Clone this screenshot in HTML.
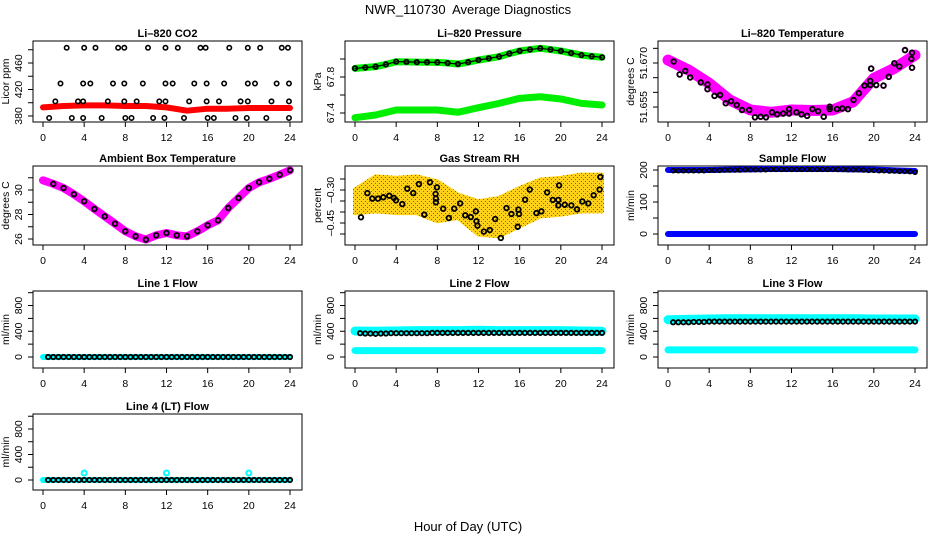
<!DOCTYPE html>
<html><head><meta charset="utf-8"><style>
body{margin:0;background:#fff}
svg{display:block;font-family:"Liberation Sans",Arial,sans-serif}
</style></head><body>
<svg id="c" width="936" height="540" xmlns="http://www.w3.org/2000/svg">
<text x="468" y="14" text-anchor="middle" font-size="13">NWR_110730&#160; Average Diagnostics</text>
<text x="468" y="531" text-anchor="middle" font-size="13">Hour of Day (UTC)</text>
</svg>
<script>
const HOURS2=[0,2,4,6,8,10,12,14,16,18,20,22,24];
const HOURS1=[0,1,2,3,4,5,6,7,8,9,10,11,12,13,14,15,16,17,18,19,20,21,22,23,24];
const HALF=[0.5,1,1.5,2,2.5,3,3.5,4,4.5,5,5.5,6,6.5,7,7.5,8,8.5,9,9.5,10,10.5,11,11.5,12,12.5,13,13.5,14,14.5,15,15.5,16,16.5,17,17.5,18,18.5,19,19.5,20,20.5,21,21.5,22,22.5,23,23.5,24];
const XTICKS=[0,4,8,12,16,20,24];
// CO2
const co2Red=[393,395,396,396,395,395,393,388,391,391,392,392,392];
const co2T=[2.3,4.0,5.1,7.3,7.9,10.2,11.9,13.1,15.3,15.8,18.1,19.9,21.1,23.2,23.8,1.7,3.9,4.6,6.8,7.9,9.7,11.9,12.6,14.7,15.9,17.6,19.9,20.6,22.7,23.9,1.2,3.4,3.9,6.3,7.9,9.1,11.3,11.9,14.2,15.9,17.1,19.2,19.9,22.2,23.9,0.6,2.8,3.9,5.7,8.0,8.6,10.7,11.8,13.7,16.0,16.6,18.7,19.8,21.7,23.9];
const co2V=[483,483,483,483,483,483,483,483,483,483,483,483,483,483,483,429,429,429,429,429,429,429,429,429,429,429,429,429,429,429,402,402,402,402,402,402,402,402,402,402,402,402,402,402,402,377,377,377,377,377,377,377,377,377,377,377,377,377,377,377];
// Pressure
const presUpper=[67.896,67.905,67.915,67.94,67.970,67.968,67.965,67.964,67.963,67.955,67.944,67.965,67.989,68.007,68.026,68.06,68.089,68.105,68.119,68.105,68.089,68.066,68.044,68.03,68.019];
const presLower=[67.348,67.378,67.433,67.433,67.433,67.408,67.459,67.507,67.563,67.581,67.556,67.507,67.489];
// Temperature
const tempCenter=[51.671,51.6676,51.6631,51.6574,51.654,51.6532,51.654,51.6538,51.654,51.6568,51.6648,51.6682,51.6727];
const tempT=[0.55,1.13,1.68,2.16,3.19,3.84,3.84,4.52,5.06,5.61,6.13,6.68,7.19,7.90,8.45,9.0,9.52,10.10,10.61,11.19,11.77,11.77,12.48,12.97,13.52,14.03,14.58,15.13,15.71,15.71,16.42,16.94,17.48,18.03,18.55,19.1,19.65,19.65,19.74,20.23,20.94,21.45,22.0,22.48,23.03,23.71,23.65,23.71];
const tempV=[51.6705,51.6661,51.6673,51.6651,51.6634,51.6627,51.6611,51.6588,51.6591,51.6563,51.6570,51.6557,51.6540,51.6540,51.6515,51.6517,51.6515,51.6532,51.6525,51.6528,51.6543,51.6528,51.6532,51.6525,51.6520,51.6543,51.6536,51.6517,51.6551,51.6543,51.6543,51.6545,51.6543,51.6574,51.6597,51.6623,51.6639,51.6625,51.6681,51.6625,51.6623,51.6653,51.6699,51.6688,51.6744,51.6735,51.6714,51.6684];
// Ambient
const ambient=[30.79,30.5,30.16,29.65,29.08,28.45,27.85,27.25,26.63,26.22,25.95,26.30,26.49,26.30,26.22,26.63,27.12,27.52,28.53,29.35,30.16,30.63,30.92,31.25,31.61];
// RH
const rhTop=[-0.298,-0.238,-0.245,-0.238,-0.261,-0.321,-0.351,-0.336,-0.291,-0.253,-0.245,-0.230,-0.230];
const rhBot=[-0.405,-0.397,-0.405,-0.405,-0.442,-0.427,-0.503,-0.510,-0.465,-0.420,-0.412,-0.397,-0.397];
const rhT=[0.58,1.20,1.68,2.23,2.75,3.33,3.78,3.98,4.59,5.08,5.66,6.21,6.73,7.28,7.83,7.86,7.86,7.96,8.57,9.12,9.64,10.22,10.71,11.25,11.74,11.80,11.90,12.52,13.10,13.62,14.17,14.72,15.20,15.81,15.88,15.94,16.53,16.98,17.63,18.11,18.67,19.22,19.83,19.76,19.76,20.38,21.02,21.57,22.09,22.67,23.19,23.77,23.84];
const rhV=[-0.424,-0.314,-0.339,-0.339,-0.333,-0.326,-0.336,-0.347,-0.364,-0.294,-0.314,-0.273,-0.412,-0.265,-0.318,-0.339,-0.356,-0.288,-0.385,-0.427,-0.385,-0.361,-0.415,-0.423,-0.397,-0.442,-0.462,-0.489,-0.482,-0.432,-0.518,-0.382,-0.409,-0.467,-0.389,-0.409,-0.344,-0.298,-0.405,-0.397,-0.311,-0.345,-0.279,-0.345,-0.370,-0.367,-0.370,-0.388,-0.352,-0.361,-0.324,-0.298,-0.241];
// Sample flow
const sampleHigh=[200,200,200,201,202,203,203,203,203,202,201,199,197];
const sampleLow=[0,0,0,0,0,0,0,0,0,0,0,0,0];
const sampleBlack=[198,198,198,198,198,198,198,199,199,199,200,200,200,200,201,201,201,201,201,202,202,202,202,202,202,202,202,202,202,202,202,202,202,202,201,201,201,200,199,199,198,198,197,197,196,196,195,193];
// Line flows
const line1Cyan=[0,0,0,0,0,0,0,0,0,0,0,0,0];
const line1Black=[0,0,0,0,0,0,0,0,0,0,0,0,0,0,0,0,0,0,0,0,0,0,0,0,0,0,0,0,0,0,0,0,0,0,0,0,0,0,0,0,0,0,0,0,0,0,0,0];
const line2CyanHi=[405,400,405,410,410,410,415,410,410,410,410,405,400];
const line2CyanLo=[100,100,100,100,100,100,100,100,100,100,100,100,100];
const line2Black=[370,365,365,360,365,365,370,370,370,370,370,370,370,370,375,375,375,375,375,375,375,375,375,375,375,375,375,375,375,375,375,375,375,375,375,375,375,375,375,375,375,375,375,375,375,375,375,375];
const line3CyanHi=[580,585,590,595,595,595,595,595,595,595,590,590,590];
const line3CyanLo=[110,110,110,110,110,110,110,110,110,110,110,110,110];
const line3Black=[540,540,540,540,545,545,545,550,550,550,550,550,550,550,550,550,550,550,550,550,550,550,550,550,550,550,550,550,550,550,550,550,550,550,550,550,550,550,550,550,550,550,550,550,550,550,550,550];
const line4Cyan=[0,0,0,0,0,0,0,0,0,0,0,0,0];
const line4SpikeT=[4,12,20];
const line4SpikeV=[110,110,110];
const line4Black=[0,0,0,0,0,0,0,0,0,0,0,0,0,0,0,0,0,0,0,0,0,0,0,0,0,0,0,0,0,0,0,0,0,0,0,0,0,0,0,0,0,0,0,0,0,0,0,0];

const svg=document.getElementById('c');
const NS='http://www.w3.org/2000/svg';
const COLX=[43,355,668], ROWTOP=[41,166,291,414], ROWBOT=[122,245,368,490];
function mk(tag,attrs,parent){const e=document.createElementNS(NS,tag);for(const k in attrs)e.setAttribute(k,attrs[k]);(parent||svg).appendChild(e);return e;}

function panel(col,row,title,ylab,vTop,vBot,ticks,labels,name,dec){
  const x0=COLX[col],top=ROWTOP[row],bot=ROWBOT[row];
  const g=mk('g',{});
  
  
  const sx=t=>x0+t*247/24;
  const sy=v=>top+(vTop-v)/(vTop-vBot)*(bot-top);
  const bx=x0-10,bw=269;
  const box=mk('rect',{x:bx,y:top,width:bw,height:bot-top,fill:'none',stroke:'#000','stroke-width':1},g);
  
  
  const tt=mk('text',{x:bx+bw/2,y:top-4,'text-anchor':'middle','font-size':11,'font-weight':'bold'},g);
  tt.textContent=title;
  
  
  XTICKS.forEach(t=>{
    mk('line',{x1:sx(t),x2:sx(t),y1:bot,y2:bot+5,stroke:'#000'},g);
    const l=mk('text',{x:sx(t),y:bot+19,'text-anchor':'middle','font-size':10.5},g);
    l.textContent=t;
    
    
  });
  ticks.forEach(v=>{mk('line',{x1:bx,x2:bx-5,y1:sy(v),y2:sy(v),stroke:'#000'},g);});
  labels.forEach(v=>{
    const y=sy(v);
    const l=mk('text',{x:bx-11,y:y,'text-anchor':'middle','font-size':10.5,transform:`rotate(-90 ${bx-11} ${y})`},g);
    l.textContent=v.toFixed(dec||0).replace('-','\u2013');
    
    
  });
  const yl=mk('text',{x:bx-24,y:(top+bot)/2,'text-anchor':'middle','font-size':10.5,transform:`rotate(-90 ${bx-24} ${(top+bot)/2})`},g);
  yl.textContent=ylab;
  
  
  const cp=mk('clipPath',{id:'cp'+name},g);
  mk('rect',{x:bx,y:top,width:bw,height:bot-top},cp);
  const d=mk('g',{'clip-path':`url(#cp${name})`},g);
  return {g:d,sx,sy};
}
function band(p,ts,vs,color,w,name){
  const pl=mk('polyline',{points:ts.map((t,i)=>p.sx(t)+','+p.sy(vs[i])).join(' '),fill:'none',stroke:color,'stroke-width':w,'stroke-linecap':'round','stroke-linejoin':'round'},p.g);
  
  
}
function pts(p,ts,vs,color,r,name,sw){
  ts.forEach((t,i)=>{
    const c=mk('circle',{cx:p.sx(t),cy:p.sy(vs[i]),r:r,fill:'none',stroke:color,'stroke-width':sw||1.6},p.g);
    
    
  });
}
function area(p,ts,hi,lo,fill,name){
  const a=ts.map((t,i)=>p.sx(t)+','+p.sy(hi[i])).concat(ts.slice().reverse().map((t,j)=>p.sx(t)+','+p.sy(lo[ts.length-1-j])));
  const pg=mk('polygon',{points:a.join(' '),fill:fill,stroke:fill,'stroke-width':4,'stroke-linejoin':'round'},p.g);
  
  
}
const defs=mk('defs',{});
const pat=mk('pattern',{id:'rhpat',width:4,height:4,patternUnits:'userSpaceOnUse'},defs);
mk('rect',{width:4,height:4,fill:'#ffd21a'},pat);
mk('rect',{x:1,y:1,width:1,height:1,fill:'#ff2a00'},pat);
mk('rect',{x:3,y:3,width:1,height:1,fill:'#ff2a00'},pat);

let p=panel(0,0,'Li\u2013820 CO2','Licor ppm',493.2,370.9,[380,400,420,440,460,480],[380,420,460],'co2');
band(p,HOURS2,co2Red,'#ff0000',6,'co2-red-series');
pts(p,co2T,co2V,'#000',2.2,'co2-black-point');

p=panel(1,0,'Li\u2013820 Pressure','kPa',68.2,67.3,[67.4,67.6,67.8,68.0],[67.4,67.8],'pressure',1);
band(p,HOURS1,presUpper,'#00ee00',7,'pressure-upper-series');
band(p,HOURS2,presLower,'#00ee00',7,'pressure-lower-series');
band(p,HOURS1,presUpper,'#000',1.2,'pressure-black-trace');
pts(p,HOURS1,presUpper,'#000',2.2,'pressure-black-point',1.8);

p=panel(2,0,'Li\u2013820 Temperature','degrees C',51.6775,51.6499,[51.655,51.660,51.665,51.670,51.675],[51.655,51.670],'temperature',3);
band(p,HOURS2,tempCenter,'#ff00ff',11,'temperature-magenta-series');
pts(p,tempT,tempV,'#ff00ff',2.5,'temperature-magenta-point');
pts(p,tempT,tempV,'#000',2.3,'temperature-black-point',1.8);

p=panel(0,1,'Ambient Box Temperature','degrees C',31.96,25.51,[26,27,28,29,30,31],[26,28,30],'ambient');
band(p,HOURS1,ambient,'#ff00ff',8,'ambient-magenta-series');
pts(p,HOURS1.slice(1),ambient.slice(1),'#000',2.3,'ambient-black-point',1.8);

p=panel(1,1,'Gas Stream RH','percent',-0.1909,-0.55,[-0.25,-0.30,-0.35,-0.40,-0.45,-0.50],[-0.30,-0.45],'rh',2);
area(p,HOURS2,rhTop,rhBot,'url(#rhpat)','rh-orange-band');
pts(p,rhT,rhV,'#000',2.3,'rh-black-point',1.8);

p=panel(2,1,'Sample Flow','ml/min',212.5,-34.4,[0,50,100,150,200],[0,100,200],'sample');
band(p,HOURS2,sampleHigh,'#0000ff',6,'sample-high-series');
band(p,HOURS2,sampleLow,'#0000ff',6,'sample-low-series');
pts(p,HALF,sampleBlack,'#000',2,'sample-black-point');

const FT=[0,200,400,600,800,1000],FL=[0,400,800];
p=panel(0,2,'Line 1 Flow','ml/min',1026,-171,FT,FL,'line1');
band(p,HOURS2,line1Cyan,'#00ffff',6,'line1-cyan-series');
pts(p,HALF,line1Black,'#000',2.2,'line1-black-point',1.8);

p=panel(1,2,'Line 2 Flow','ml/min',1026,-171,FT,FL,'line2');
band(p,HOURS2,line2CyanHi,'#00ffff',9,'line2-cyan-high-series');
band(p,HOURS2,line2CyanLo,'#00ffff',7,'line2-cyan-low-series');
pts(p,HALF,line2Black,'#000',2.2,'line2-black-point',1.8);

p=panel(2,2,'Line 3 Flow','ml/min',1026,-171,FT,FL,'line3');
band(p,HOURS2,line3CyanHi,'#00ffff',9,'line3-cyan-high-series');
band(p,HOURS2,line3CyanLo,'#00ffff',7,'line3-cyan-low-series');
pts(p,HALF,line3Black,'#000',2.2,'line3-black-point',1.8);

p=panel(0,3,'Line 4 (LT) Flow','ml/min',1035,-157,FT,FL,'line4');
band(p,HOURS2,line4Cyan,'#00ffff',6,'line4-cyan-series');
pts(p,HALF,line4Black,'#000',2.2,'line4-black-point',1.8);
pts(p,line4SpikeT,line4SpikeV,'#00ffff',2.5,'line4-cyan-spike',2);
</script>
</body></html>
